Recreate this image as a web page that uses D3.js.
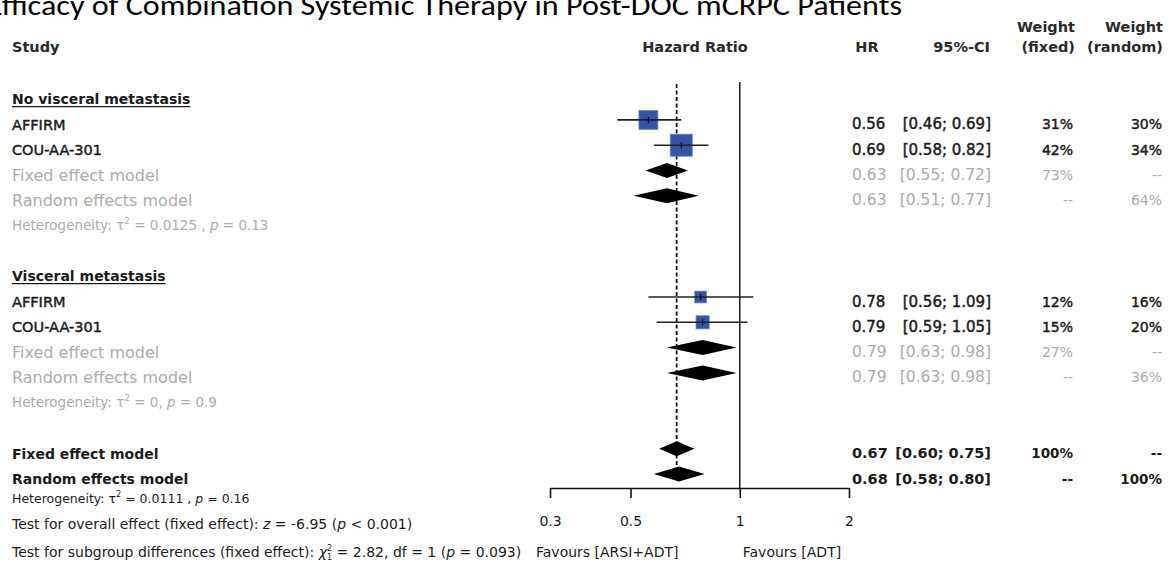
<!DOCTYPE html>
<html><head><meta charset="utf-8">
<script src="https://cdn.jsdelivr.net/npm/d3@7"></script>
<style>
html,body{margin:0;padding:0;background:#fff;overflow:hidden;}
text{font-family:"DejaVu Sans",Verdana,sans-serif;}
</style></head>
<body><svg id="c" width="1175" height="563"></svg>
<script>
// ---------- data ----------
const titleText = "Efficacy of Combination Systemic Therapy in Post-DOC mCRPC Patients";
const subgroupNames = ["No visceral metastasis", "Visceral metastasis"];
const studyNames = ["AFFIRM", "COU-AA-301"];
const studyHR    = [[0.56, 0.69], [0.78, 0.79]];
const studyLower = [[0.46, 0.58], [0.56, 0.59]];
const studyUpper = [[0.69, 0.82], [1.09, 1.05]];
const studyWFixed  = [[31, 42], [12, 15]];
const studyWRandom = [[30, 34], [16, 20]];
const subFixedHR    = [0.63, 0.79];
const subFixedLower = [0.55, 0.63];
const subFixedUpper = [0.72, 0.98];
const subRandomHR    = [0.63, 0.79];
const subRandomLower = [0.51, 0.63];
const subRandomUpper = [0.77, 0.98];
const subWFixed  = [73, 27];
const subWRandom = [64, 36];
const subTau2 = ["0.0125 ", "0"];
const subP    = ["0.13", "0.9"];
const overallFixed  = [0.67, 0.60, 0.75];
const overallRandom = [0.68, 0.58, 0.80];
const overallTau2 = "0.0111 ";
const overallP = "0.16";
const overallZ = "-6.95";
const overallZp = "< 0.001";
const subgroupChi2 = "2.82";
const subgroupDf = "1";
const subgroupP = "0.093";
const tickValues = [0.3, 0.5, 1, 2];
const favourLabels = ["Favours [ARSI+ADT]", "Favours [ADT]"];

// ---------- layout ----------
const svg = d3.select("#c");
const x = d3.scaleLog().domain([0.3, 2]).range([550, 849]);
const size = d3.scaleSqrt().domain([0, 100]).range([0, 34]);
const rowY = i => 94.6 + i * 25.3;
const black = "#1b1b1b", grey = "#ababab";
const f2 = d3.format(".2f");
const ci = (l, u) => `[${f2(l)}; ${f2(u)}]`;
const pct = v => v == null ? "--" : v + "%";
const colHR = 852, colCI = 991, colWF = 1073, colWR = 1162;

function semi(sel, col) {
  return sel.attr("stroke", col).attr("stroke-width", 0.45).attr("paint-order", "stroke");
}

// title
svg.append("text").attr("x", -13).attr("y", 15)
  .attr("textLength", 915).attr("lengthAdjust", "spacingAndGlyphs")
  .style("font-family", "Carlito, Lato, 'Open Sans', sans-serif")
  .style("font-size", "29px").attr("fill", "#000").text(titleText);

// header
const hdr = svg.append("g").attr("font-weight", "bold").attr("fill", "#2a2a2a").style("font-size", "14.5px");
hdr.append("text").attr("x", 12).attr("y", 52).text("Study");
hdr.append("text").attr("x", 695).attr("y", 52).attr("text-anchor", "middle").text("Hazard Ratio");
hdr.append("text").attr("x", 867).attr("y", 52).attr("text-anchor", "middle").text("HR");
hdr.append("text").attr("x", colCI - 1).attr("y", 52).attr("text-anchor", "end").text("95%-CI");
hdr.append("text").attr("x", colWF + 2).attr("y", 32).attr("text-anchor", "end").text("Weight");
hdr.append("text").attr("x", colWF + 2).attr("y", 52).attr("text-anchor", "end").text("(fixed)");
hdr.append("text").attr("x", colWR + 1).attr("y", 32).attr("text-anchor", "end").text("Weight");
hdr.append("text").attr("x", colWR + 1).attr("y", 52).attr("text-anchor", "end").text("(random)");

// reference lines
svg.append("line").attr("x1", x(1)).attr("x2", x(1)).attr("y1", 82).attr("y2", 488)
  .attr("stroke", "#222").attr("stroke-width", 1.6);
svg.append("line").attr("x1", x(overallFixed[0])).attr("x2", x(overallFixed[0])).attr("y1", 84).attr("y2", 474)
  .attr("stroke", "#111").attr("stroke-width", 1.8).attr("stroke-dasharray", "4,2.5");

function numRow(y, hr, l, u, wf, wr, col, fs, weight, pfs, thick) {
  const g = svg.append("g").attr("fill", col).style("font-size", fs + "px").attr("font-weight", weight || "normal");
  if (thick) semi(g, col);
  g.append("text").attr("x", colHR).attr("y", y + 9.5).text(f2(hr));
  g.append("text").attr("x", colCI).attr("y", y + 9.5).attr("text-anchor", "end").text(ci(l, u));
  g.append("text").attr("x", colWF).attr("y", y + 9.5).attr("text-anchor", "end").style("font-size", pfs + "px").text(pct(wf));
  g.append("text").attr("x", colWR).attr("y", y + 9.5).attr("text-anchor", "end").style("font-size", pfs + "px").text(pct(wr));
}
function diamond(y, est, l, u, h) {
  const pts = [[x(l), y], [x(est), y - h], [x(u), y], [x(est), y + h]];
  svg.append("path").attr("d", d3.line()(pts) + "Z").attr("fill", "#000");
}
function hetText(y, tau, p, col, fs) {
  const t = svg.append("text").attr("x", 12).attr("y", y).attr("fill", col).style("font-size", fs + "px");
  t.append("tspan").text("Heterogeneity: τ");
  t.append("tspan").attr("dy", -6).style("font-size", (fs * 0.65) + "px").text("2");
  t.append("tspan").attr("dy", 6).text(" = " + tau + ", ");
  t.append("tspan").attr("font-style", "italic").text("p");
  t.append("tspan").text(" = " + p);
}

subgroupNames.forEach((name, gi) => {
  const base = gi * 7;
  const yT = rowY(base);
  const tt = svg.append("text").attr("x", 12).attr("y", yT + 9).attr("fill", black)
    .attr("font-weight", "bold").style("font-size", "14px").text(name);
  const bb = tt.node().getBBox();
  svg.append("line").attr("x1", 12).attr("x2", 12 + bb.width).attr("y1", yT + 12).attr("y2", yT + 12)
    .attr("stroke", black).attr("stroke-width", 1.2);

  studyNames.forEach((s, si) => {
    const y = rowY(base + 1 + si);
    semi(svg.append("text").attr("x", 12).attr("y", y + 10).attr("fill", black)
      .style("font-size", "14.5px").text(s), black);
    const hr = studyHR[gi][si], l = studyLower[gi][si], u = studyUpper[gi][si];
    const sz = size(studyWFixed[gi][si]);
    svg.append("rect").attr("x", x(hr) - sz / 2).attr("y", y - sz / 2).attr("width", sz).attr("height", sz)
      .attr("fill", "#3553a9").attr("stroke", "#6f86c8").attr("stroke-width", 0.8);
    svg.append("line").attr("x1", x(l)).attr("x2", x(u)).attr("y1", y).attr("y2", y)
      .attr("stroke", "#222").attr("stroke-width", 1.6);
    svg.append("line").attr("x1", x(hr)).attr("x2", x(hr)).attr("y1", y - 3).attr("y2", y + 3)
      .attr("stroke", "#111").attr("stroke-width", 1.2);
    numRow(y, hr, l, u, studyWFixed[gi][si], studyWRandom[gi][si], black, 15, "normal", 14, true);
  });

  const yF = rowY(base + 3), yR = rowY(base + 4);
  svg.append("text").attr("x", 12).attr("y", yF + 10).attr("fill", grey).style("font-size", "16px").text("Fixed effect model");
  svg.append("text").attr("x", 12).attr("y", yR + 10).attr("fill", grey).style("font-size", "16px").text("Random effects model");
  diamond(yF, subFixedHR[gi], subFixedLower[gi], subFixedUpper[gi], 7.5);
  diamond(yR, subRandomHR[gi], subRandomLower[gi], subRandomUpper[gi], 7.5);
  numRow(yF, subFixedHR[gi], subFixedLower[gi], subFixedUpper[gi], subWFixed[gi], null, grey, 15.5, "normal", 14);
  numRow(yR, subRandomHR[gi], subRandomLower[gi], subRandomUpper[gi], null, subWRandom[gi], grey, 15.5, "normal", 14);
  hetText(rowY(base + 5) + 9, subTau2[gi], subP[gi], grey, 13.5);
});

// overall
const yOF = rowY(14), yOR = rowY(15);
svg.append("text").attr("x", 12).attr("y", yOF + 10).attr("fill", black).attr("font-weight", "bold").style("font-size", "14px").text("Fixed effect model");
svg.append("text").attr("x", 12).attr("y", yOR + 10).attr("fill", black).attr("font-weight", "bold").style("font-size", "14px").text("Random effects model");
diamond(yOF, overallFixed[0], overallFixed[1], overallFixed[2], 7.5);
diamond(yOR, overallRandom[0], overallRandom[1], overallRandom[2], 7.5);
numRow(yOF, overallFixed[0], overallFixed[1], overallFixed[2], 100, null, black, 14.5, "bold", 13.5);
numRow(yOR, overallRandom[0], overallRandom[1], overallRandom[2], null, 100, black, 14.5, "bold", 13.5);
hetText(503, overallTau2, overallP, black, 12.5);

const t1 = svg.append("text").attr("x", 12).attr("y", 529).attr("fill", black).style("font-size", "14px");
t1.append("tspan").text("Test for overall effect (fixed effect): ");
t1.append("tspan").attr("font-style", "italic").text("z");
t1.append("tspan").text(" = " + overallZ + " (");
t1.append("tspan").attr("font-style", "italic").text("p");
t1.append("tspan").text(" " + overallZp + ")");

const t2 = svg.append("text").attr("x", 12).attr("y", 557).attr("fill", black).style("font-size", "14px");
t2.append("tspan").text("Test for subgroup differences (fixed effect): ");
t2.append("tspan").attr("font-style", "italic").text("χ");
t2.append("tspan").attr("dy", -6).style("font-size", "8px").text("2");
t2.append("tspan").attr("dx", -5).attr("dy", 9).style("font-size", "8px").text(subgroupDf);
t2.append("tspan").attr("dy", -3).text(" = " + subgroupChi2 + ", df = " + subgroupDf + " (");
t2.append("tspan").attr("font-style", "italic").text("p");
t2.append("tspan").text(" = " + subgroupP + ")");

// axis
const axis = svg.append("g").attr("transform", "translate(0,488)")
  .call(d3.axisBottom(x).tickValues(tickValues).tickFormat(d => d).tickSize(10).tickSizeOuter(0).tickPadding(18));
axis.select(".domain").attr("stroke", "#111").attr("stroke-width", 1.6);
axis.selectAll(".tick line").attr("stroke", "#111").attr("stroke-width", 1.6);
axis.selectAll(".tick text").attr("fill", black).style("font-size", "14px").style("font-family", "DejaVu Sans");

svg.append("text").attr("x", x(0.3) - 14).attr("y", 557).attr("fill", black).style("font-size", "14px").text(favourLabels[0]);
svg.append("text").attr("x", x(1) + 3).attr("y", 557).attr("fill", black).style("font-size", "14px").text(favourLabels[1]);
</script></body></html>
